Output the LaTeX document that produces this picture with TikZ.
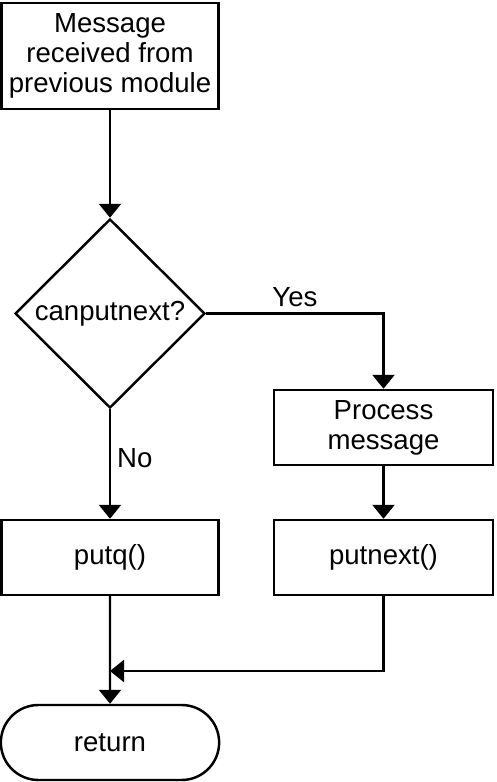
\documentclass[tikz,border=0pt]{standalone}
\usepackage{fontspec}
\setmainfont{Liberation Sans}
\usepackage{tikz}
\usetikzlibrary{positioning, shapes.geometric, shapes.misc, arrows.meta, calc}

\begin{document}
\begin{tikzpicture}[
    line width=1.4pt,
    >={Triangle[width=0.44cm, length=0.28cm]},
    font=\fontsize{15.7}{17}\selectfont,
    every node/.style={align=center},
    procbox/.style={draw, rectangle, minimum width=4.34cm, minimum height=1.5cm, inner sep=2pt},
    decision/.style={draw, diamond, minimum width=3.8cm, minimum height=3.78cm, inner sep=0pt},
    terminal/.style={draw, rounded rectangle, minimum width=4.6cm, minimum height=1.5cm}
]
    \useasboundingbox (0,0) rectangle (9.94,-15.64);

    % Left column and right column of the flow.
    \node[procbox, minimum height=2.12cm] (msg) at (2.2,-1.12) {Message\\received from\\previous module};
    \node[decision] (check) at (2.2,-6.27) {canputnext?};
    \node[procbox, minimum width=4.38cm] (proc) at (7.67,-8.55) {Process\\message};
    \node[procbox] (putq) at (2.2,-11.15) {putq()};
    \node[procbox, minimum width=4.38cm] (putnext) at (7.67,-11.15) {putnext()};
    \node[terminal] (ret) at (2.2,-14.85) {return};
    \coordinate (merge) at (2.2,-13.42);

    \path[->]
        (msg) edge (check)
        (check) edge node[right, pos=0.45] {No} (putq)
        (proc) edge (putnext)
        (putq) edge (ret);
    \draw[->] (check.east) -| node[above, pos=0.25] {Yes} (proc.north);
    \draw[->] (putnext.south) |- (merge);
\end{tikzpicture}
\end{document}
